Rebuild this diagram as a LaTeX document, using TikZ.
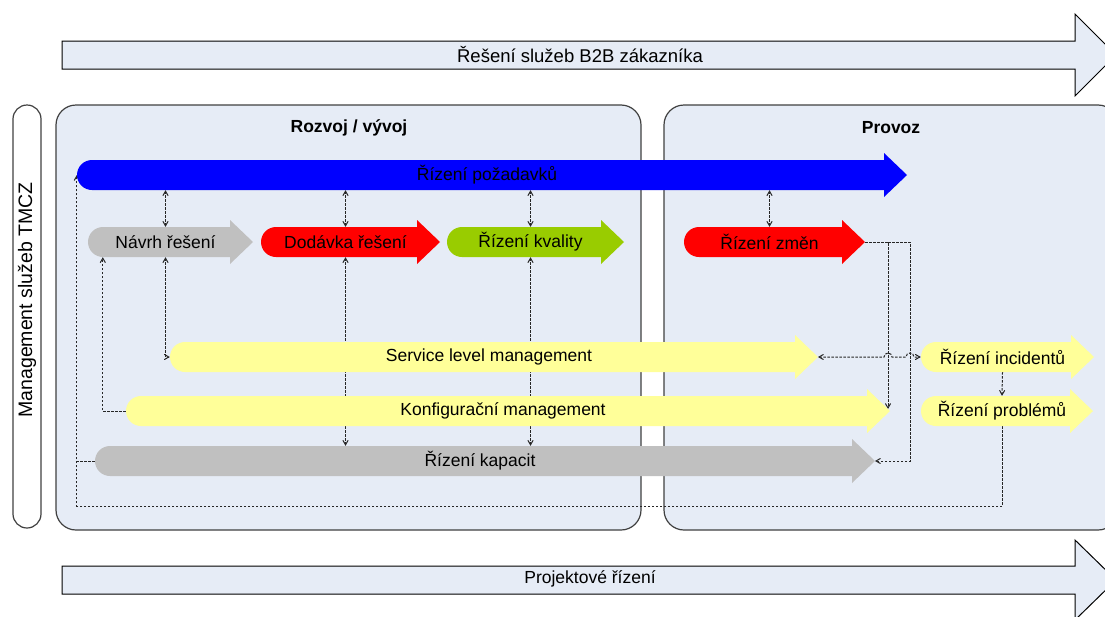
\documentclass[tikz,border=0pt]{standalone}
\usepackage{fontspec}
\setmainfont{Liberation Sans}
\usetikzlibrary{arrows,calc,positioning}

\definecolor{panelbg}{RGB}{230,236,246}
\definecolor{reqblue}{RGB}{0,0,255}
\definecolor{flowred}{RGB}{255,0,0}
\definecolor{flowgreen}{RGB}{153,204,0}
\definecolor{flowgrey}{RGB}{192,192,192}
\definecolor{flowyellow}{RGB}{255,255,153}

\pgfdeclarelayer{background}
\pgfdeclarelayer{lines}
\pgfsetlayers{background,lines,main}

% flow arrow: name, colour, left end, tip, y, text
\newcommand{\flowarrow}[6]{%
  \fill[#2] ({#3+15},{#5-15}) -- ({#4-23},{#5-15}) -- ({#4-23},{#5-22})
    -- (#4,#5) -- ({#4-23},{#5+22}) -- ({#4-23},{#5+15}) -- ({#3+15},{#5+15})
    arc[start angle=90,end angle=270,radius=15] -- cycle;
  \node[flowtext,minimum width={#4-#3-10}] (#1) at ({(#3+#4)/2-5},#5) {#6};
  \coordinate (#1 tip) at (#4,#5);
}

\begin{document}
\begin{tikzpicture}[x=1pt,y=-1pt,>=angle 60,
        flowtext/.style={inner sep=0pt,minimum height=30pt,font=\fontsize{17.5}{20}\selectfont},
        phasetitle/.style={font=\fontsize{17.5}{20}\selectfont\bfseries},
        panel/.style={draw=black!75,fill=panelbg,line width=1.2pt,rounded corners=20pt},
        band/.style={draw=black,fill=panelbg,line width=1pt},
        conn/.style={draw=black!85,dash pattern=on 2.5pt off 1.5pt,line width=1pt}]
        \useasboundingbox (0,0) rectangle (1105,616);
        \clip (0,0) rectangle (1105,616);

        % bands and panels
        \begin{pgfonlayer}{background}
          \begin{scope}
            \clip (0,0) rectangle (1105,616);
            \draw[band] (62,41) -- (1075,41) -- (1075,14) -- (1116,55) -- (1075,96) -- (1075,69) -- (62,69) -- cycle;
            \draw[band] (62,566) -- (1075,566) -- (1075,540) -- (1116,580) -- (1075,620) -- (1075,594) -- (62,594) -- cycle;
            \draw[draw=black!75,line width=1.2pt,rounded corners=14pt] (13,105) rectangle (41,528);
            \draw[panel] (56,105) rectangle (641,530);
            \draw[panel] (664,105) rectangle (1118,530);
          \end{scope}
        \end{pgfonlayer}

        \node[flowtext,font=\fontsize{18.5}{20}\selectfont] (b2b) at (580,55) {Řešení služeb B2B zákazníka};
        \node[flowtext] (projekt) at (590,579) {Projektové řízení};
        \node[flowtext,font=\fontsize{19.5}{22}\selectfont,rotate=90] (tmcz) at (27,300) {Management služeb TMCZ};
        \node[phasetitle] (rozvoj) at (349,128) {Rozvoj / vývoj};
        \node[phasetitle] (provoz) at (891,128) {Provoz};

        \flowarrow{pozad}{reqblue}{77}{907}{175}{Řízení požadavků}
        \flowarrow{navrh}{flowgrey}{88}{253}{242}{Návrh řešení}
        \flowarrow{dodavka}{flowred}{261}{440}{242}{Dodávka řešení}
        \flowarrow{kvalita}{flowgreen}{447}{624}{242}{Řízení kvality}
        \flowarrow{zmeny}{flowred}{684}{865}{242}{Řízení změn}
        \flowarrow{slm}{flowyellow}{170}{818}{357}{Service level management}
        \flowarrow{konfig}{flowyellow}{126}{890}{411}{Konfigurační management}
        \flowarrow{kapacit}{flowgrey}{95}{875}{461}{Řízení kapacit}
        \flowarrow{incid}{flowyellow}{921}{1094}{357}{Řízení incidentů}
        \flowarrow{problem}{flowyellow}{921}{1093}{411}{Řízení problémů}

        \coordinate (bend1) at ($(zmeny tip)+(23,0)$);
        \coordinate (bend2) at ($(zmeny tip)+(45,0)$);

        % dashed links
        \begin{pgfonlayer}{lines}
          \draw[conn,<->] (navrh.north) -- (navrh.north |- pozad.south);
          \draw[conn,<->] (dodavka.north) -- (dodavka.north |- pozad.south);
          \draw[conn,<->] (kvalita.north) -- (kvalita.north |- pozad.south);
          \draw[conn,<->] (zmeny.north) -- (zmeny.north |- pozad.south);
          \draw[conn,<->] (navrh.south) |- (slm.west);
          \draw[conn,->] (konfig.west) -| ($(navrh.south west)+(15,0)$);
          \draw[conn,<->] (dodavka.south) -- (dodavka.south |- kapacit.north);
          \draw[conn,<->] (kvalita.south) -- (kvalita.south |- kapacit.north);
          \draw[conn,->,shorten >=2pt] (zmeny tip) -- (bend1) -- (bend1 |- konfig tip);
          \draw[conn,->] (bend1) -- (bend2) -- (bend2 |- kapacit tip) -- (kapacit tip);
          \draw[conn,<->] (slm tip) -- ($(bend1 |- slm tip)+(-4,0)$) arc[start angle=180,end angle=360,radius=4]
            -- ($(bend2 |- slm tip)+(-4,0)$) arc[start angle=180,end angle=360,radius=4] -- (incid.west);
          \draw[conn,->] (incid.south) -- (problem.north);
          \draw[conn,->] (problem.south) -- ++(0,80) -| (pozad.west);
          \draw[conn] (kapacit.west) -- (kapacit.west -| pozad.west);
        \end{pgfonlayer}
      \end{tikzpicture}
\end{document}
